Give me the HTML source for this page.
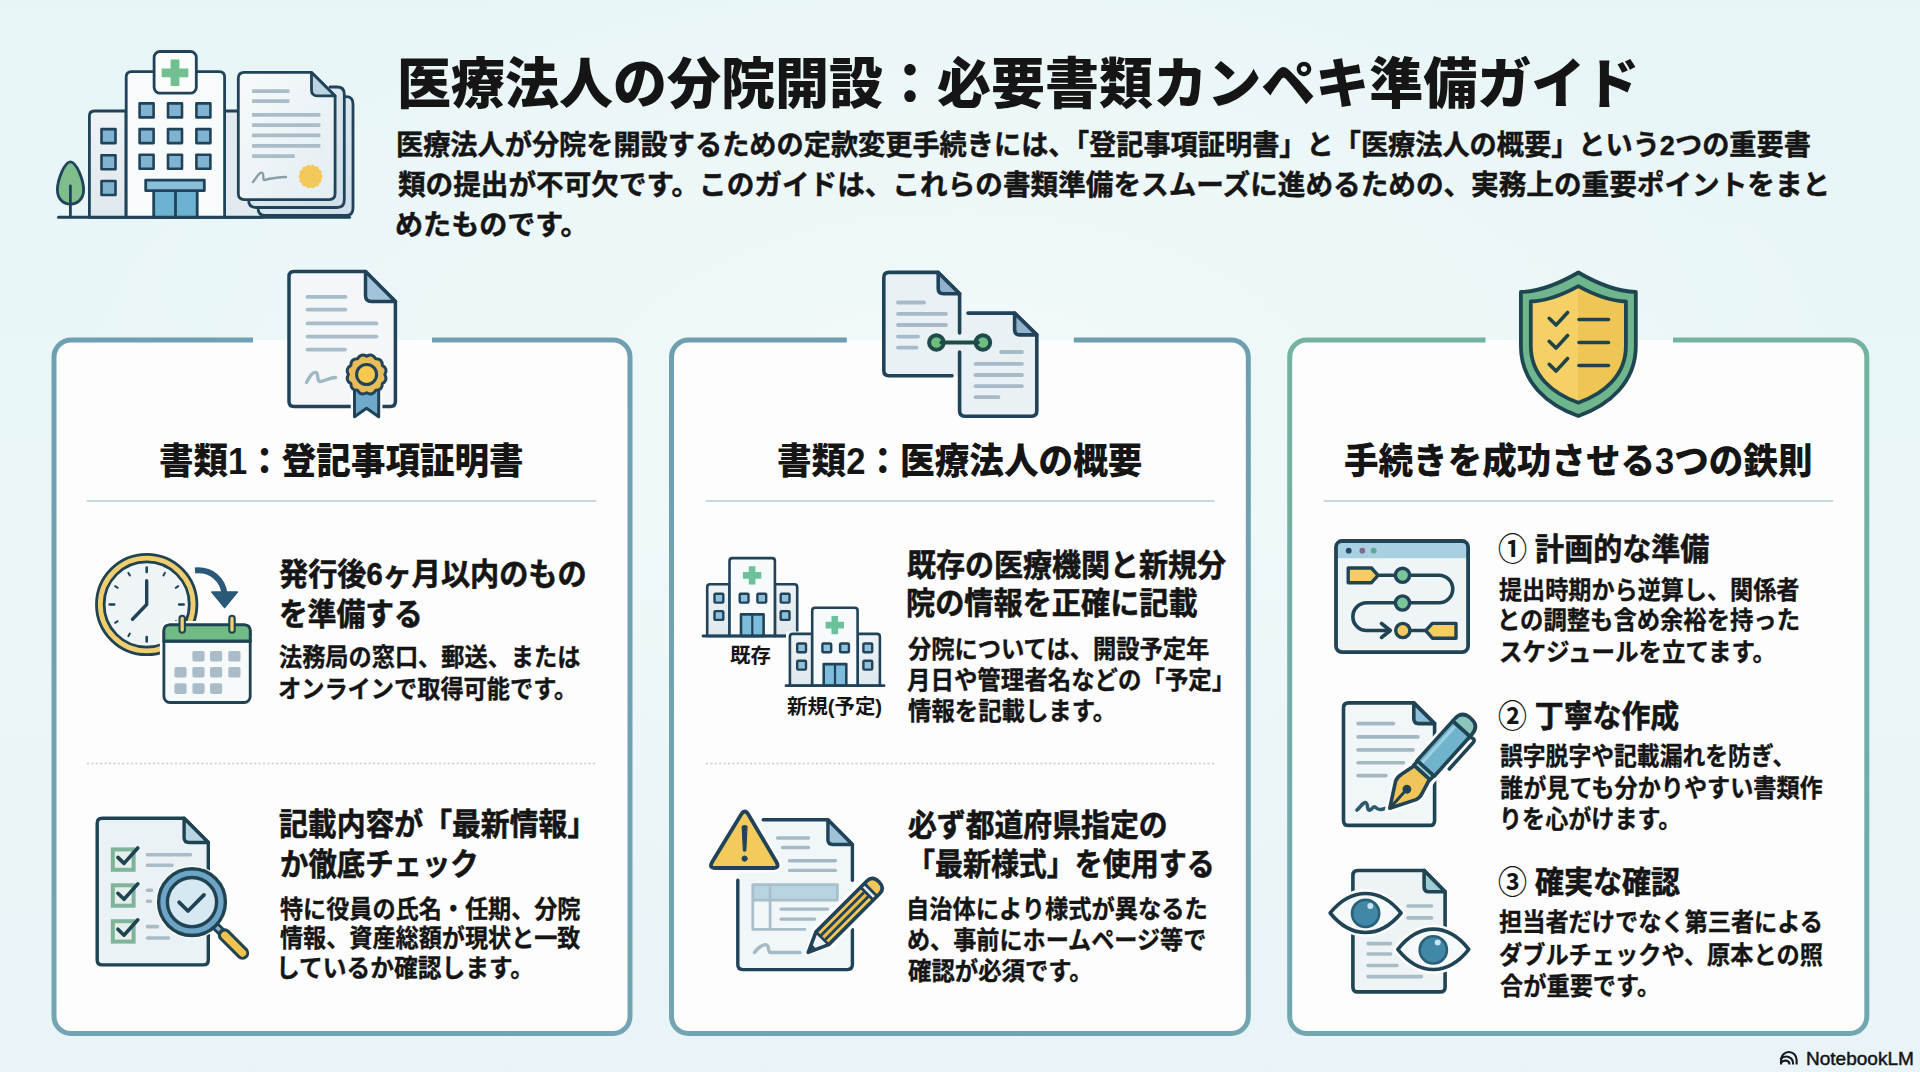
<!DOCTYPE html>
<html lang="ja">
<head>
<meta charset="utf-8">
<title>医療法人の分院開設：必要書類カンペキ準備ガイド</title>
<style>
html,body{margin:0;padding:0;}
body{width:1920px;height:1072px;overflow:hidden;position:relative;background:#e9f5f6;font-family:"Liberation Sans","Noto Sans CJK JP",sans-serif;}
#bg{position:absolute;left:0;top:0;width:1920px;height:1072px;background:
 radial-gradient(ellipse 900px 500px at 960px 420px, rgba(243,250,251,0.9), rgba(243,250,251,0) 100%),
 linear-gradient(180deg,#e8f5f6 0%,#eaf6f7 50%,#e8f4f7 100%);}
svg#art{position:absolute;left:0;top:0;}
.t{position:absolute;white-space:nowrap;line-height:1;color:#151515;transform-origin:0 0;}
.n{font-weight:700;-webkit-text-stroke:0}
</style>
</head>
<body>
<div id="bg"></div>
<svg id="art" width="1920" height="1072" viewBox="0 0 1920 1072">
<defs>
<linearGradient id="gb1" x1="0" y1="340" x2="0" y2="1034" gradientUnits="userSpaceOnUse"><stop offset="0" stop-color="#6f9fb2"/><stop offset="1" stop-color="#73a4b4"/></linearGradient>
<linearGradient id="gb2" x1="0" y1="340" x2="0" y2="1034" gradientUnits="userSpaceOnUse"><stop offset="0" stop-color="#6f9fae"/><stop offset="1" stop-color="#72a5b0"/></linearGradient>
<linearGradient id="gb3" x1="0" y1="340" x2="0" y2="1034" gradientUnits="userSpaceOnUse"><stop offset="0" stop-color="#74b39f"/><stop offset="0.5" stop-color="#72ada8"/><stop offset="1" stop-color="#70a7b0"/></linearGradient>
<linearGradient id="gWing" x1="0" y1="0" x2="0" y2="1"><stop offset="0" stop-color="#eef3f6"/><stop offset="1" stop-color="#dfe8ed"/></linearGradient>
<linearGradient id="gDoc" x1="0" y1="0" x2="1" y2="1"><stop offset="0" stop-color="#f7fafb"/><stop offset="1" stop-color="#e3edf2"/></linearGradient>
<linearGradient id="gDocB" x1="0" y1="0" x2="1" y2="1"><stop offset="0" stop-color="#e4eef4"/><stop offset="1" stop-color="#cfdfe9"/></linearGradient>
<linearGradient id="gShield" x1="0" y1="0" x2="1" y2="0"><stop offset="0" stop-color="#f4d067"/><stop offset="0.5" stop-color="#f4d067"/><stop offset="0.5" stop-color="#efc556"/><stop offset="1" stop-color="#efc556"/></linearGradient>

</defs>
<rect x="54" y="340" width="576" height="693.5" rx="17" fill="#fcfdfc"/><path d="M432,340 H613 A17,17 0 0 1 630,357 V1016.5 A17,17 0 0 1 613,1033.5 H71 A17,17 0 0 1 54,1016.5 V357 A17,17 0 0 1 71,340 H253" fill="none" stroke="url(#gb1)" stroke-width="5"/><rect x="671.5" y="340" width="576.8" height="693.5" rx="17" fill="#fcfdfc"/><path d="M1073.8,340 H1231.3 A17,17 0 0 1 1248.3,357 V1016.5 A17,17 0 0 1 1231.3,1033.5 H688.5 A17,17 0 0 1 671.5,1016.5 V357 A17,17 0 0 1 688.5,340 H846.8" fill="none" stroke="url(#gb2)" stroke-width="5"/><rect x="1289.7" y="340" width="577.0999999999999" height="693.5" rx="17" fill="#fcfdfc"/><path d="M1673,340 H1849.8 A17,17 0 0 1 1866.8,357 V1016.5 A17,17 0 0 1 1849.8,1033.5 H1306.7 A17,17 0 0 1 1289.7,1016.5 V357 A17,17 0 0 1 1306.7,340 H1485.5" fill="none" stroke="url(#gb3)" stroke-width="5"/>

<g stroke="#c3dae2" stroke-width="2">
<line x1="86.6" y1="501" x2="596.3" y2="501"/><line x1="705.7" y1="501" x2="1214.7" y2="501"/><line x1="1323.6" y1="501" x2="1833.2" y2="501"/>
</g>
<g stroke="#c2cdd0" stroke-width="1.6" stroke-dasharray="2 2.4">
<line x1="87" y1="763.5" x2="596" y2="763.5"/><line x1="706" y1="763.5" x2="1215" y2="763.5"/>
</g>
<g id="hdr" stroke="#21435a" stroke-width="2.8" stroke-linejoin="round" stroke-linecap="round" fill="none">
<!-- tree -->
<path d="M70.4,161.8 C64.5,161.8 57.4,180 57.4,190 C57.4,198.5 63,204.2 70.4,204.2 C77.8,204.2 83.6,198.5 83.6,190 C83.6,180 76.4,161.8 70.4,161.8 Z" fill="#7fbd8c"/>
<path d="M70.4,186 V217" />
<!-- wings -->
<path d="M89.4,217.3 V116 Q89.4,111 94.4,111 H126 V217.3 Z" fill="url(#gWing)"/>
<path d="M224.6,111 H262 V217.3 H224.6 Z" fill="#e3eaef"/>
<!-- tower -->
<path d="M126.2,217.3 V77 Q126.2,71.6 131.6,71.6 H219.2 Q224.6,71.6 224.6,77 V217.3 Z" fill="#f8fbfc"/>
<!-- sign -->
<rect x="154.1" y="51.5" width="42.2" height="41.7" rx="6" fill="#fbfdfd"/>
<path d="M170.6,59.5 h8.8 v8.9 h8.9 v8.8 h-8.9 v8.9 h-8.8 v-8.9 h-8.9 v-8.8 h8.9 Z" fill="#72bf92" stroke="none"/>
<!-- windows tower -->
<g fill="#7fb3d1" stroke-width="2.6">
<rect x="139.6" y="103.4" width="14" height="14"/><rect x="168" y="103.4" width="14" height="14"/><rect x="196.4" y="103.4" width="14" height="14"/>
<rect x="139.6" y="129.1" width="14" height="14"/><rect x="168" y="129.1" width="14" height="14"/><rect x="196.4" y="129.1" width="14" height="14"/>
<rect x="139.6" y="154.8" width="14" height="14"/><rect x="168" y="154.8" width="14" height="14"/><rect x="196.4" y="154.8" width="14" height="14"/>
<rect x="101.5" y="129.1" width="14" height="14"/><rect x="101.5" y="155.3" width="14" height="14"/><rect x="101.5" y="181" width="14" height="14"/>
</g>
<!-- door -->
<rect x="153.7" y="190.7" width="43.5" height="26.6" fill="#6db1d3"/>
<path d="M175.5,190.7 V217.3"/>
<rect x="145.7" y="180.1" width="58.6" height="10.6" fill="#8bbfd9"/>
<!-- ground -->
<path d="M58.5,217.3 H349.5" stroke-width="3"/>
<!-- docs back -->
<path d="M258,104 V208 Q258,215.5 265.5,215.5 H346 Q353,215.5 353,208 V104 Q353,96.7 346,96.7 H340" fill="url(#gDocB)"/>
<path d="M248.6,94 V200 Q248.6,207.5 256,207.5 H337 Q344.3,207.5 344.3,200 V94 Q344.3,87 337,87 H330" fill="url(#gDocB)"/>
<!-- doc front -->
<path d="M244.3,72.4 H311.5 L335.1,95.9 V193.6 Q335.1,199.6 329.1,199.6 H244.3 Q238.3,199.6 238.3,193.6 V78.4 Q238.3,72.4 244.3,72.4 Z" fill="url(#gDoc)"/>
<path d="M311.5,72.4 V90 Q311.5,95.9 317.5,95.9 H335.1 Z" fill="#bcd3e2"/>
<g stroke="#a9bcc7" stroke-width="3.8" stroke-linecap="butt">
<path d="M252.1,91.1 H289.4 M252.1,101.2 H289.4 M252.1,114.8 H320.4 M252.1,125.1 H320.4 M252.1,135.4 H320.4 M252.1,145.9 H320.4 M252.1,156.1 H294.7"/>
</g>
<path d="M253,182 C257,177 260,171 262.5,173 C264.5,175 262,181 265,180 C271,178 279,177.5 286,177" stroke="#8a9faa" stroke-width="2.4"/>
<path d="M310.60,165.70 Q313.63,163.24 315.29,166.77 Q319.08,165.87 319.04,169.77 Q322.85,170.60 321.13,174.10 Q324.20,176.50 321.13,178.90 Q322.85,182.40 319.04,183.23 Q319.08,187.13 315.29,186.23 Q313.63,189.76 310.60,187.30 Q307.57,189.76 305.91,186.23 Q302.12,187.13 302.16,183.23 Q298.35,182.40 300.07,178.90 Q297.00,176.50 300.07,174.10 Q298.35,170.60 302.16,169.77 Q302.12,165.87 305.91,166.77 Q307.57,163.24 310.60,165.70 Z" fill="#f3c85a" stroke="none"/>
</g>

<g id="top1" stroke="#21435a" stroke-width="3.5" stroke-linejoin="round" stroke-linecap="round" fill="none">
<path d="M294,271.6 H365.5 L395.4,301.5 V401.5 Q395.4,406.5 390.4,406.5 H294 Q289,406.5 289,401.5 V276.6 Q289,271.6 294,271.6 Z" fill="#f3f7f9"/>
<path d="M365.5,271.6 V295.5 Q365.5,301.5 371.5,301.5 H395.4 Z" fill="#a3c3d8"/>
<g stroke="#a9bdc8" stroke-width="3.8"><path d="M307.5,296.9 H345.5 M307.5,309.6 H345.5 M307.5,323.4 H376.5 M307.5,336.6 H376.5 M307.5,349.6 H345"/></g>
<path d="M306.5,382.5 C310,376 313,371.5 316,372.5 C319,374 316.5,381.5 320,381.5 C324,381.5 328,378 335.5,377.5" stroke="#a0b8c5" stroke-width="3.4"/>
<path d="M354.5,392 V416.8 L366.6,408.3 L378.7,416.8 V392 Z" fill="#fcfdfc" stroke="#fcfdfc" stroke-width="7.5"/>
<path d="M354.5,388 V416.8 L366.6,408.3 L378.7,416.8 V388 Z" fill="#6faacb" stroke-width="3"/>
<path d="M366.60,356.30 Q372.40,352.86 375.70,358.74 Q382.44,358.66 382.36,365.40 Q388.24,368.70 384.80,374.50 Q388.24,380.30 382.36,383.60 Q382.44,390.34 375.70,390.26 Q372.40,396.14 366.60,392.70 Q360.80,396.14 357.50,390.26 Q350.76,390.34 350.84,383.60 Q344.96,380.30 348.40,374.50 Q344.96,368.70 350.84,365.40 Q350.76,358.66 357.50,358.74 Q360.80,352.86 366.60,356.30 Z" fill="#e8bd57" stroke-width="3"/>
<circle cx="366.6" cy="374.5" r="10" fill="#f7c94f" stroke-width="3"/>
</g>
<g id="top2" stroke="#21435a" stroke-width="3.6" stroke-linejoin="round" stroke-linecap="round" fill="none">
<path d="M889,272.4 H938.2 L959.6,293.8 V375.8 H889 Q883.8,375.8 883.8,370.6 V277.6 Q883.8,272.4 889,272.4 Z" fill="#eaf1f5" stroke="none"/>
<path d="M959.6,313.1 H1014.6 L1036.8,334.9 V411 Q1036.8,416.2 1031.6,416.2 H964.8 Q959.6,416.2 959.6,411 Z" fill="#eaf1f5" stroke="none"/>
<path d="M952,375.8 H889 Q883.8,375.8 883.8,370.6 V277.6 Q883.8,272.4 889,272.4 H938.2 L959.6,293.8 V333"/>
<path d="M938.2,272.4 V288.6 Q938.2,293.8 943.4,293.8 H959.6 Z" fill="#8fb3cc"/>
<g stroke="#a6bbc7" stroke-width="3.8"><path d="M898,302.5 H924 M898,313.9 H946 M898,325 H946 M898,336.6 H918 M898,347.7 H916.5"/></g>
<path d="M968,313.1 H1014.6 L1036.8,334.9 V411 Q1036.8,416.2 1031.6,416.2 H964.8 Q959.6,416.2 959.6,411 V352"/>
<path d="M1014.6,313.1 V329.7 Q1014.6,334.9 1019.8,334.9 H1036.8 Z" fill="#8fb3cc"/>
<g stroke="#a6bbc7" stroke-width="3.8"><path d="M1001,352 H1022 M975.5,363.9 H1022 M975.5,375 H1022 M975.5,386.1 H1022 M975.5,397.2 H998.5"/></g>
<g stroke="#1f4a4a" stroke-width="4"><circle cx="936.4" cy="342.5" r="7.3" fill="#6fbb80"/><circle cx="982.9" cy="342.5" r="7.3" fill="#6fbb80"/><path d="M941.5,342.5 H977.8" stroke-width="4.2"/></g>
</g>
<g id="top3" stroke="#1e4650" stroke-width="3.8" stroke-linejoin="round" stroke-linecap="round" fill="none">
<path d="M1578.35,272.5 C1559.966,283.225 1540.433,291.5 1520.9,292 V346 C1520.9,382.4 1547.327,404.8 1578.35,416 C1609.3729999999998,404.8 1635.8,382.4 1635.8,346 V292 C1616.267,291.5 1596.734,283.225 1578.35,272.5 Z" fill="#6fb68e"/>
<path d="M1578.35,286.2 C1563.1339999999998,294.615 1546.9669999999999,301.0 1530.8,301.5 V346 C1530.8,375.484 1552.6729999999998,393.628 1578.35,402.7 C1604.027,393.628 1625.9,375.484 1625.9,346 V301.5 C1609.7330000000002,301.0 1593.566,294.615 1578.35,286.2 Z" fill="url(#gShield)"/>
<path d="M1549.2,318.3 L1556,325.1 L1567.6,312.5" stroke="#1f4448" stroke-width="3.6"/>
<path d="M1579,319.5 H1608.5" stroke="#1f4448" stroke-width="3.6"/>
<path d="M1549.2,341.3 L1556,348.1 L1567.6,335.5" stroke="#1f4448" stroke-width="3.6"/>
<path d="M1579,342.5 H1608.5" stroke="#1f4448" stroke-width="3.6"/>
<path d="M1549.2,364.3 L1556,371.1 L1567.6,358.5" stroke="#1f4448" stroke-width="3.6"/>
<path d="M1579,365.5 H1608.5" stroke="#1f4448" stroke-width="3.6"/>
</g>
<g id="c1a" stroke="#1f4350" stroke-width="2.8" stroke-linejoin="round" stroke-linecap="round" fill="none">
<circle cx="146.7" cy="604.5" r="50.2" fill="#f0cd6e"/>
<circle cx="146.7" cy="604.5" r="42.6" fill="#eff5f7"/>
<path d="M146.7,572.0 L146.7,567.5" stroke-width="2.6"/>
<path d="M163.4,575.5 L164.9,572.9" stroke-width="2"/>
<path d="M175.7,587.8 L178.3,586.2" stroke-width="2"/>
<path d="M179.2,604.5 L183.7,604.5" stroke-width="2.6"/>
<path d="M175.7,621.2 L178.3,622.8" stroke-width="2"/>
<path d="M163.4,633.5 L164.9,636.1" stroke-width="2"/>
<path d="M146.7,637.0 L146.7,641.5" stroke-width="2.6"/>
<path d="M129.9,633.5 L128.4,636.1" stroke-width="2"/>
<path d="M117.7,621.2 L115.1,622.8" stroke-width="2"/>
<path d="M114.2,604.5 L109.7,604.5" stroke-width="2.6"/>
<path d="M117.7,587.8 L115.1,586.2" stroke-width="2"/>
<path d="M129.9,575.5 L128.4,572.9" stroke-width="2"/>
<path d="M146.7,580.8 V604.5 L132.5,619.2" stroke-width="3.4" stroke="#21435a"/>
<path d="M195,570.5 C212,569 223,580 224.5,594" stroke="#2a5878" stroke-width="6" stroke-linecap="butt"/>
<path d="M211.8,592 H237.4 L224.6,607.5 Z" fill="#2a5878" stroke="#2a5878" stroke-width="1.5"/>
<rect x="163.9" y="624.9" width="86.3" height="77.6" rx="6" fill="#fcfdfc" stroke="#fcfdfc" stroke-width="8"/>
<rect x="163.9" y="624.9" width="86.3" height="77.6" rx="6" fill="#f6fafb"/>
<path d="M163.9,641.2 V630.9 Q163.9,624.9 169.9,624.9 H244.2 Q250.2,624.9 250.2,630.9 V641.2 Z" fill="#6fba85"/>
<path d="M163.9,641.2 H250.2" stroke-width="3"/>
<rect x="179.5" y="615.8" width="5.4" height="17" rx="2.7" fill="#f0d172" stroke-width="2.1"/>
<rect x="229.3" y="615.8" width="5.4" height="17" rx="2.7" fill="#f0d172" stroke-width="2.1"/>
<rect x="192.4" y="651.0" width="12.2" height="10.6" rx="1.8" fill="#a9bcc8" stroke="none"/>
<rect x="210.0" y="651.0" width="12.2" height="10.6" rx="1.8" fill="#a9bcc8" stroke="none"/>
<rect x="228.3" y="651.0" width="12.2" height="10.6" rx="1.8" fill="#a9bcc8" stroke="none"/>
<rect x="174.4" y="667.0" width="12.2" height="10.6" rx="1.8" fill="#a9bcc8" stroke="none"/>
<rect x="192.4" y="667.0" width="12.2" height="10.6" rx="1.8" fill="#a9bcc8" stroke="none"/>
<rect x="210.0" y="667.0" width="12.2" height="10.6" rx="1.8" fill="#a9bcc8" stroke="none"/>
<rect x="228.3" y="667.0" width="12.2" height="10.6" rx="1.8" fill="#a9bcc8" stroke="none"/>
<rect x="174.4" y="683.3" width="12.2" height="10.6" rx="1.8" fill="#a9bcc8" stroke="none"/>
<rect x="192.4" y="683.3" width="12.2" height="10.6" rx="1.8" fill="#a9bcc8" stroke="none"/>
<rect x="210.0" y="683.3" width="12.2" height="10.6" rx="1.8" fill="#a9bcc8" stroke="none"/>
</g>
<g id="c1b" stroke="#1f4350" stroke-width="3.4" stroke-linejoin="round" stroke-linecap="round" fill="none">
<path d="M102.2,818.3 H184.1 L208.3,842.5 V959.9 Q208.3,964.9 203.3,964.9 H102.2 Q97.2,964.9 97.2,959.9 V823.3 Q97.2,818.3 102.2,818.3 Z" fill="#ebf2f5"/>
<path d="M184.1,818.3 V837.5 Q184.1,842.5 189.1,842.5 H208.3 Z" fill="#b9d4e2"/>
<rect x="112.8" y="849.4" width="20.8" height="20.4" fill="#e4efec" stroke="#7fb39a" stroke-width="4" stroke-linejoin="miter"/>
<path d="M117.9,857.4 L124,863.4 L137.8,848.0" stroke-width="3.6"/>
<rect x="112.8" y="885.3" width="20.8" height="20.4" fill="#e4efec" stroke="#7fb39a" stroke-width="4" stroke-linejoin="miter"/>
<path d="M117.9,893.3 L124,899.3 L137.8,883.9" stroke-width="3.6"/>
<rect x="112.8" y="921.2" width="20.8" height="20.4" fill="#e4efec" stroke="#7fb39a" stroke-width="4" stroke-linejoin="miter"/>
<path d="M117.9,929.2 L124,935.2 L137.8,919.8" stroke-width="3.6"/>
<g stroke="#a9bcc6" stroke-width="3.6"><path d="M147.5,854.7 H190.5 M147.5,865.3 H172 M147.5,890.3 H151.5 M147.5,901.2 H150.5 M147.5,926.6 H157.5 M147.5,938 H168.5"/></g>
<circle cx="192" cy="902.1" r="36.5" fill="#fcfdfc" stroke="none"/>
<path d="M216,926.5 L243.5,954" stroke="#fcfdfc" stroke-width="17"/>
<path d="M214.5,925 L224,934.5" stroke="#1f4350" stroke-width="9" stroke-linecap="butt"/>
<path d="M214.5,925 L224,934.5" stroke="#8fb5cc" stroke-width="3.6" stroke-linecap="butt"/>
<path d="M224.5,935 L242.5,953" stroke="#1f4350" stroke-width="13.4"/>
<path d="M224.8,935.3 L242.5,953" stroke="#f0c350" stroke-width="7.4"/>
<circle cx="192" cy="902.1" r="33.4" fill="#6ea4c5"/>
<circle cx="192" cy="902.1" r="24.6" fill="#d6e9f2"/>
<path d="M179.2,902.3 L188,911 L204,894.9" stroke-width="3.8"/>
</g>
<g id="c2a">
<g transform="translate(0,0)" stroke="#21435a" stroke-width="2.6" stroke-linejoin="round" stroke-linecap="round" fill="none">
<path d="M707.2,636 V587 Q707.2,584.2 710,584.2 H729.5 V636 Z" fill="url(#gWing)"/>
<path d="M774.9,584.2 H794.4 Q797.2,584.2 797.2,587 V636 H774.9 Z" fill="url(#gWing)"/>
<path d="M729.5,636 V561 Q729.5,558.1 732.4,558.1 H772 Q774.9,558.1 774.9,561 V636 Z" fill="#f7fafb"/>
<path d="M748.8000000000001,566.1999999999999 h6.6 v5.8999999999999995 h5.8999999999999995 v6.6 h-5.8999999999999995 v5.8999999999999995 h-6.6 v-5.8999999999999995 h-5.8999999999999995 v-6.6 h5.8999999999999995 Z" fill="#6cc19a" stroke="none"/>
<rect x="739.7" y="593.8" width="8.8" height="8.8" rx="1" fill="#8fc0dc" stroke-width="2.4"/>
<rect x="757.4" y="593.8" width="8.8" height="8.8" rx="1" fill="#8fc0dc" stroke-width="2.4"/>
<rect x="714.5" y="593.8" width="8.8" height="8.8" rx="1" fill="#8fc0dc" stroke-width="2.4"/>
<rect x="714.5" y="611.1" width="8.8" height="8.8" rx="1" fill="#8fc0dc" stroke-width="2.4"/>
<rect x="780.7" y="593.8" width="8.8" height="8.8" rx="1" fill="#8fc0dc" stroke-width="2.4"/>
<rect x="780.7" y="611.1" width="8.8" height="8.8" rx="1" fill="#8fc0dc" stroke-width="2.4"/>
<rect x="741" y="614.4" width="22.6" height="21.6" fill="#7dbcdb" stroke-width="2.6"/>
<path d="M752.3,614.4 V636" stroke-width="2.2"/>
</g>
<path d="M703,636 H786" stroke="#21435a" stroke-width="2.8" stroke-linecap="round"/>
<path d="M788.5,685 V634 H811 V608 H858.5 V634 H881 V685 Z" fill="#fcfdfc" stroke="#fcfdfc" stroke-width="5" stroke-linejoin="round"/>
<g transform="translate(82.7,49.7)" stroke="#21435a" stroke-width="2.6" stroke-linejoin="round" stroke-linecap="round" fill="none">
<path d="M707.2,636 V587 Q707.2,584.2 710,584.2 H729.5 V636 Z" fill="url(#gWing)"/>
<path d="M774.9,584.2 H794.4 Q797.2,584.2 797.2,587 V636 H774.9 Z" fill="url(#gWing)"/>
<path d="M729.5,636 V561 Q729.5,558.1 732.4,558.1 H772 Q774.9,558.1 774.9,561 V636 Z" fill="#f7fafb"/>
<path d="M748.8000000000001,566.1999999999999 h6.6 v5.8999999999999995 h5.8999999999999995 v6.6 h-5.8999999999999995 v5.8999999999999995 h-6.6 v-5.8999999999999995 h-5.8999999999999995 v-6.6 h5.8999999999999995 Z" fill="#6cc19a" stroke="none"/>
<rect x="739.7" y="593.8" width="8.8" height="8.8" rx="1" fill="#8fc0dc" stroke-width="2.4"/>
<rect x="757.4" y="593.8" width="8.8" height="8.8" rx="1" fill="#8fc0dc" stroke-width="2.4"/>
<rect x="714.5" y="593.8" width="8.8" height="8.8" rx="1" fill="#8fc0dc" stroke-width="2.4"/>
<rect x="714.5" y="611.1" width="8.8" height="8.8" rx="1" fill="#8fc0dc" stroke-width="2.4"/>
<rect x="780.7" y="593.8" width="8.8" height="8.8" rx="1" fill="#8fc0dc" stroke-width="2.4"/>
<rect x="780.7" y="611.1" width="8.8" height="8.8" rx="1" fill="#8fc0dc" stroke-width="2.4"/>
<rect x="741" y="614.4" width="22.6" height="21.6" fill="#7dbcdb" stroke-width="2.6"/>
<path d="M752.3,614.4 V636" stroke-width="2.2"/>
</g>
<path d="M786,685.7 H884" stroke="#21435a" stroke-width="2.8" stroke-linecap="round"/>
</g>
<g id="c2b" stroke="#21435a" stroke-width="3.4" stroke-linejoin="round" stroke-linecap="round" fill="none">
<path d="M737.8,819.8 H827.9 L852.4,844.5 V964.6 Q852.4,969.6 847.4,969.6 H742.8 Q737.8,969.6 737.8,964.6 Z" fill="#f1f6f8" stroke="none"/>
<path d="M763.2,819.8 H827.9 L852.4,844.5 V880.2 M852.4,929.4 V964.6 Q852.4,969.6 847.4,969.6 H742.8 Q737.8,969.6 737.8,964.6 V880.2"/>
<path d="M827.9,819.8 V839.5 Q827.9,844.5 832.9,844.5 H852.4 Z" fill="#9fc3d8"/>
<g stroke="#a6bac5" stroke-width="3.4"><path d="M777.5,838 H808.5 M782.5,847.5 H808.5 M789.5,860.7 H835.5 M789.5,870.4 H835.5 M781,909.1 H827.5 M781,919.1 H814.5"/></g>
<rect x="752.8" y="884.6" width="84.6" height="15.5" fill="#b9d4e1" stroke="none"/>
<g stroke="#a9bfca" stroke-width="2.8" stroke-linecap="butt"><path d="M752.8,884.6 H837.4 V900.1 H752.8 Z M752.8,900.1 V929.4 H806 M770.1,884.6 V929.4"/></g>
<path d="M754.5,952.5 C758,947.5 763,944 766.5,945 C770,946.5 767,952.5 771,952.5 H800" stroke="#a6bac5" stroke-width="3.4"/>
<path d="M715.50,868.00 Q708.50,868.00 712.15,862.02 L741.15,814.48 Q744.80,808.50 748.36,814.52 L776.44,861.98 Q780.00,868.00 773.00,868.00 Z" fill="#fcfdfc" stroke="#fcfdfc" stroke-width="9"/>
<path d="M715.50,868.00 Q708.50,868.00 712.15,862.02 L741.15,814.48 Q744.80,808.50 748.36,814.52 L776.44,861.98 Q780.00,868.00 773.00,868.00 Z" fill="#f3ca5c" stroke-width="3.8"/>
<path d="M742.2,826.5 Q744.6,824.8 747,826.5 L745.8,850.5 Q744.6,851.6 743.4,850.5 Z" fill="#21435a" stroke-width="1.2"/>
<circle cx="744.6" cy="858.6" r="2.6" fill="#21435a" stroke-width="1"/>
<g transform="translate(808.2,952.4) rotate(-45.00)">
<path d="M-2,0 L20,-12.0 L90,-12.0 Q103,-12.0 103,0 Q103,12.0 90,12.0 L20,12.0 Z" fill="#fcfdfc" stroke="#fcfdfc" stroke-width="4"/>
<path d="M20,-9.0 H83 V9.0 H20 Z" fill="#f2c759" stroke="none"/>
<path d="M20,-3.00 H83 V3.00 H20 Z" fill="#e9b94a" stroke="none"/>
<path d="M83,-9.0 H88.5 V9.0 H83 Z" fill="#e6ecee" stroke="none"/>
<path d="M88.5,-9.0 H92 Q100,-9.0 100,0 Q100,9.0 92,9.0 H88.5 Z" fill="#f2c759" stroke="none"/>
<path d="M0,0 L20,-9.0 V9.0 Z" fill="#eef3f5" stroke="none"/>
<path d="M0,0 L20,-9.0 H92 Q100,-9.0 100,0 Q100,9.0 92,9.0 H20 Z" stroke-width="3.6"/>
<path d="M20,-9.0 V9.0 M83,-9.0 V9.0 M88.5,-9.0 V9.0" stroke-width="2.8"/>
<path d="M22,-3.00 H81 M22,3.00 H81" stroke-width="2.8"/>
<path d="M0,0 L7.5,-3.2 V3.2 Z" fill="#21435a" stroke-width="1.5"/>
</g>
</g>
<g id="c3a" stroke="#214455" stroke-width="3.6" stroke-linejoin="round" stroke-linecap="round" fill="none">
<rect x="1336" y="541" width="132.1" height="111.1" rx="6" fill="#eff5f7" stroke="none"/>
<path d="M1336,558.3 V547 Q1336,541 1342,541 H1462.1 Q1468.1,541 1468.1,547 V558.3 Z" fill="#a9cfe2" stroke="none"/>
<rect x="1336" y="541" width="132.1" height="111.1" rx="6" stroke-width="3.8"/>
<circle cx="1348.7" cy="550.7" r="2.9" fill="#214a66" stroke="none"/><circle cx="1362.3" cy="550.7" r="2.9" fill="#7d6c8c" stroke="none"/><circle cx="1373.7" cy="550.7" r="2.9" fill="#5fa896" stroke="none"/>
<path d="M1379.5,575.3 H1439 A13.75,13.75 0 0 1 1439,602.8 H1366.7 A13.85,13.85 0 0 0 1366.7,630.5 H1389 M1402.8,630.5 H1426" />
<path d="M1381.5,623.5 L1390.3,630.5 L1381.5,637.5"/>
<path d="M1348.2,568 H1371.5 L1378,575.3 L1371.5,582.7 H1348.2 Z" fill="#f6cd5e" stroke-width="3.4"/>
<path d="M1456,623.4 H1432.3 L1425.8,630.7 L1432.3,638.2 H1456 Z" fill="#f6cd5e" stroke-width="3.4"/>
<circle cx="1402.5" cy="575.3" r="7.1" fill="#7cc49a" stroke-width="3.4"/>
<circle cx="1402.5" cy="603" r="7.1" fill="#7cc49a" stroke-width="3.4"/>
<circle cx="1402.8" cy="630.5" r="7.1" fill="#f6c95c" stroke-width="3.4"/>
</g>
<g id="c3b" stroke="#214455" stroke-width="3.6" stroke-linejoin="round" stroke-linecap="round" fill="none">
<path d="M1348.5,702.9 H1413.8 L1434.6,723.6 V820.4 Q1434.6,825.4 1429.6,825.4 H1348.5 Q1343.5,825.4 1343.5,820.4 V707.9 Q1343.5,702.9 1348.5,702.9 Z" fill="#f1f6f8"/>
<path d="M1413.8,702.9 V718.6 Q1413.8,723.6 1418.8,723.6 H1434.6 Z" fill="#8dc0d8"/>
<g stroke="#a4b8c2" stroke-width="3.6"><path d="M1358,723.6 H1393.5 M1358,736.9 H1418 M1358,749.9 H1413 M1358,762.8 H1403.5 M1358,775.6 H1386"/></g>
<path d="M1357,810 C1361,806.5 1363.5,801.5 1366,802.8 C1368.5,804.5 1366.5,810.5 1369.5,810.2 C1372,810 1373,806 1375,807 C1377,808.5 1378,811 1385,808.5" stroke="#2b5a6b" stroke-width="3.6"/>
<g transform="translate(1389.8,808.2) rotate(-48.0)">
<path d="M-3,0 L26,-16 L48,-13 H108 Q124,-13 124,0 Q124,13 108,13 H48 L26,16 Z" fill="#fcfdfc" stroke="#fcfdfc" stroke-width="6"/>
<path d="M103,8 Q112,18.5 103,18 H69" stroke-width="3.6"/>
<path d="M53.5,-11.6 H107 V11.6 H53.5 Z" fill="#6fb3cd"/>
<path d="M57,-6.4 H103" stroke="#9fd0e0" stroke-width="3" />
<path d="M107,-11.6 H110 Q121,-11.6 121,0 Q121,11.6 110,11.6 H107 Z" fill="#8cc5bc"/>
<path d="M48,-11 H53.5 V11 H48 Z" fill="#a5d5d0"/>
<path d="M0,0 L24,-13.8 Q28.5,-15.6 33,-14 L48,-10.2 V10.2 L33,14 Q28.5,15.6 24,13.8 Z" fill="#f0c55a"/>
<path d="M3,0 H24" stroke-width="3"/>
<circle cx="25.5" cy="0" r="3.4" fill="#214455" stroke-width="2"/>
</g>
</g>
<g id="c3c" stroke="#214455" stroke-width="3.6" stroke-linejoin="round" stroke-linecap="round" fill="none">
<path d="M1357.9,870.5 H1424.1 L1445.1,891.8 V986.9 Q1445.1,991.9 1440.1,991.9 H1357.9 Q1352.9,991.9 1352.9,986.9 V875.5 Q1352.9,870.5 1357.9,870.5 Z" fill="#eef4f6"/>
<path d="M1424.1,870.5 V886.8 Q1424.1,891.8 1429.1,891.8 H1445.1 Z" fill="#9dcbd4"/>
<g stroke="#a9bcc5" stroke-width="3.6"><path d="M1408,906 H1431.5 M1408,917.9 H1431.5 M1368,943.6 H1390.5 M1368,954 H1390.5 M1368,965.5 H1397 M1368,976.6 H1421.5"/></g>
<path d="M1330.1,913 C1351.4,887.0 1379.8,887.0 1401.1,913 C1379.8,939.0 1351.4,939.0 1330.1,913 Z" fill="#fcfdfc" stroke="#fcfdfc" stroke-width="9"/>
<path d="M1330.1,913 C1351.4,887.0 1379.8,887.0 1401.1,913 C1379.8,939.0 1351.4,939.0 1330.1,913 Z" fill="#f5f9fa"/>
<circle cx="1365.6" cy="913.4" r="13.6" fill="#4088a5" stroke="#2a5f78" stroke-width="2.6"/>
<circle cx="1370.3" cy="906" r="3" fill="#c4e6f0" stroke="none"/>
<path d="M1397.8,949.3 C1419.1,922.4 1447.5,922.4 1468.8,949.3 C1447.5,976.2 1419.1,976.2 1397.8,949.3 Z" fill="#fcfdfc" stroke="#fcfdfc" stroke-width="9"/>
<path d="M1397.8,949.3 C1419.1,922.4 1447.5,922.4 1468.8,949.3 C1447.5,976.2 1419.1,976.2 1397.8,949.3 Z" fill="#f5f9fa"/>
<circle cx="1433.3" cy="949.9" r="13.6" fill="#4088a5" stroke="#2a5f78" stroke-width="2.6"/>
<circle cx="1437.7" cy="942.5" r="3" fill="#c4e6f0" stroke="none"/>
</g>
<g id="nblm" stroke="#161a1d" stroke-width="2.1" fill="none" stroke-linecap="butt">
<path d="M1781.1,1064.4 V1059.8 A7.75,7.75 0 0 1 1796.6,1059.8 V1064.4"/>
<path d="M1780.4,1059.3 C1785.3,1054.2 1793.2,1056.6 1793.2,1064.4"/>
<path d="M1780.4,1063 C1783.6,1059.3 1789.4,1060 1789.5,1064.4"/>
</g>

</svg>
<div class="t" style="left:396.7px;top:57.5px;font-size:54.5px;font-weight:900;transform:scaleX(0.9910)">医療法人の分院開設：必要書類カンペキ準備ガイド</div>
<div class="t" style="left:396.4px;top:132.1px;font-size:28.0px;font-weight:700;-webkit-text-stroke:0.45px #151515;transform:scaleX(0.9707)">医療法人が分院を開設するための定款変更手続きには、「登記事項証明書」と「医療法人の概要」という2つの重要書</div>
<div class="t" style="left:397.5px;top:172.4px;font-size:28.0px;font-weight:700;-webkit-text-stroke:0.45px #151515;transform:scaleX(0.9865)">類の提出が不可欠です。このガイドは、これらの書類準備をスムーズに進めるための、実務上の重要ポイントをまと</div>
<div class="t" style="left:395.3px;top:212.2px;font-size:28.0px;font-weight:700;-webkit-text-stroke:0.45px #151515;transform:scaleX(1.0023)">めたものです。</div>
<div class="t" style="left:158.7px;top:443.9px;font-size:36.4px;font-weight:900;transform:scaleX(0.9491)">書類1：登記事項証明書</div>
<div class="t" style="left:777.2px;top:443.9px;font-size:36.4px;font-weight:900;transform:scaleX(0.9514)">書類2：医療法人の概要</div>
<div class="t" style="left:1344.4px;top:443.9px;font-size:36.4px;font-weight:900;transform:scaleX(0.9496)">手続きを成功させる3つの鉄則</div>
<div class="t" style="left:278.8px;top:558.9px;font-size:30.6px;font-weight:700;-webkit-text-stroke:0.6px #151515;transform:scaleX(0.9525)">発行後6ヶ月以内のもの</div>
<div class="t" style="left:278.9px;top:598.8px;font-size:30.6px;font-weight:700;-webkit-text-stroke:0.6px #151515;transform:scaleX(0.9399)">を準備する</div>
<div class="t" style="left:278.9px;top:646.2px;font-size:24.6px;font-weight:700;-webkit-text-stroke:0.35px #151515;transform:scaleX(0.9428)">法務局の窓口、郵送、または</div>
<div class="t" style="left:277.9px;top:678.0px;font-size:24.6px;font-weight:700;-webkit-text-stroke:0.35px #151515;transform:scaleX(0.9433)">オンラインで取得可能です。</div>
<div class="t" style="left:278.9px;top:808.6px;font-size:30.6px;font-weight:700;-webkit-text-stroke:0.6px #151515;transform:scaleX(0.9426)">記載内容が「最新情報」</div>
<div class="t" style="left:279.9px;top:848.8px;font-size:30.6px;font-weight:700;-webkit-text-stroke:0.6px #151515;transform:scaleX(0.9281)">か徹底チェック</div>
<div class="t" style="left:279.8px;top:897.8px;font-size:24.6px;font-weight:700;-webkit-text-stroke:0.35px #151515;transform:scaleX(0.9398)">特に役員の氏名・任期、分院</div>
<div class="t" style="left:279.8px;top:927.0px;font-size:24.6px;font-weight:700;-webkit-text-stroke:0.35px #151515;transform:scaleX(0.9398)">情報、資産総額が現状と一致</div>
<div class="t" style="left:276.0px;top:956.6px;font-size:24.6px;font-weight:700;-webkit-text-stroke:0.35px #151515;transform:scaleX(0.9652)">しているか確認します。</div>
<div class="t" style="left:906.8px;top:550.1px;font-size:30.6px;font-weight:700;-webkit-text-stroke:0.6px #151515;transform:scaleX(0.9481)">既存の医療機関と新規分</div>
<div class="t" style="left:905.8px;top:588.2px;font-size:30.6px;font-weight:700;-webkit-text-stroke:0.6px #151515;transform:scaleX(0.9535)">院の情報を正確に記載</div>
<div class="t" style="left:907.7px;top:638.2px;font-size:24.6px;font-weight:700;-webkit-text-stroke:0.35px #151515;transform:scaleX(0.9459)">分院については、開設予定年</div>
<div class="t" style="left:906.7px;top:668.5px;font-size:24.6px;font-weight:700;-webkit-text-stroke:0.35px #151515;transform:scaleX(0.9534)">月日や管理者名などの「予定」</div>
<div class="t" style="left:907.7px;top:699.6px;font-size:24.6px;font-weight:700;-webkit-text-stroke:0.35px #151515;transform:scaleX(0.9507)">情報を記載します。</div>
<div class="t" style="left:907.7px;top:809.6px;font-size:30.6px;font-weight:700;-webkit-text-stroke:0.6px #151515;transform:scaleX(0.9427)">必ず都道府県指定の</div>
<div class="t" style="left:907.1px;top:848.8px;font-size:30.6px;font-weight:700;-webkit-text-stroke:0.6px #151515;transform:scaleX(0.9140)">「最新様式」を使用する</div>
<div class="t" style="left:905.9px;top:898.2px;font-size:24.6px;font-weight:700;-webkit-text-stroke:0.35px #151515;transform:scaleX(0.9454)">自治体により様式が異なるた</div>
<div class="t" style="left:906.8px;top:928.5px;font-size:24.6px;font-weight:700;-webkit-text-stroke:0.35px #151515;transform:scaleX(0.9396)">め、事前にホームページ等で</div>
<div class="t" style="left:907.7px;top:959.6px;font-size:24.6px;font-weight:700;-webkit-text-stroke:0.35px #151515;transform:scaleX(0.9508)">確認が必須です。</div>
<div class="t" style="left:730.4px;top:646.2px;font-size:20px;font-weight:700;transform:scaleX(1.0211)">既存</div>
<div class="t" style="left:787.3px;top:696.5px;font-size:20px;font-weight:700;transform:scaleX(1.0196)">新規(予定)</div>
<div class="t" style="left:1497.9px;top:534.2px;font-size:30.6px;font-weight:700;-webkit-text-stroke:0.6px #151515;transform:scaleX(0.9493)"><span class="n">①</span> 計画的な準備</div>
<div class="t" style="left:1498.9px;top:578.8px;font-size:24.6px;font-weight:700;-webkit-text-stroke:0.35px #151515;transform:scaleX(0.9396)">提出時期から逆算し、関係者</div>
<div class="t" style="left:1497.0px;top:609.0px;font-size:24.6px;font-weight:700;-webkit-text-stroke:0.35px #151515;transform:scaleX(0.9484)">との調整も含め余裕を持った</div>
<div class="t" style="left:1498.9px;top:640.6px;font-size:24.6px;font-weight:700;-webkit-text-stroke:0.35px #151515;transform:scaleX(0.9566)">スケジュールを立てます。</div>
<div class="t" style="left:1497.9px;top:700.6px;font-size:30.6px;font-weight:700;-webkit-text-stroke:0.6px #151515;transform:scaleX(0.9429)"><span class="n">②</span> 丁寧な作成</div>
<div class="t" style="left:1499.8px;top:745.2px;font-size:24.6px;font-weight:700;-webkit-text-stroke:0.35px #151515;transform:scaleX(0.9274)">誤字脱字や記載漏れを防ぎ、</div>
<div class="t" style="left:1499.8px;top:776.9px;font-size:24.6px;font-weight:700;-webkit-text-stroke:0.35px #151515;transform:scaleX(0.9405)">誰が見ても分かりやすい書類作</div>
<div class="t" style="left:1499.0px;top:808.0px;font-size:24.6px;font-weight:700;-webkit-text-stroke:0.35px #151515;transform:scaleX(0.9383)">りを心がけます。</div>
<div class="t" style="left:1497.9px;top:867.1px;font-size:30.6px;font-weight:700;-webkit-text-stroke:0.6px #151515;transform:scaleX(0.9482)"><span class="n">③</span> 確実な確認</div>
<div class="t" style="left:1498.9px;top:911.2px;font-size:24.6px;font-weight:700;-webkit-text-stroke:0.35px #151515;transform:scaleX(0.9429)">担当者だけでなく第三者による</div>
<div class="t" style="left:1498.9px;top:943.9px;font-size:24.6px;font-weight:700;-webkit-text-stroke:0.35px #151515;transform:scaleX(0.9433)">ダブルチェックや、原本との照</div>
<div class="t" style="left:1499.9px;top:974.5px;font-size:24.6px;font-weight:700;-webkit-text-stroke:0.35px #151515;transform:scaleX(0.9438)">合が重要です。</div>
<div class="t" style="left:1805.5px;top:1050.7px;font-size:17.7px;font-weight:400;-webkit-text-stroke:0.45px #151515;transform:scaleX(1.0755)">NotebookLM</div>

</body>
</html>
